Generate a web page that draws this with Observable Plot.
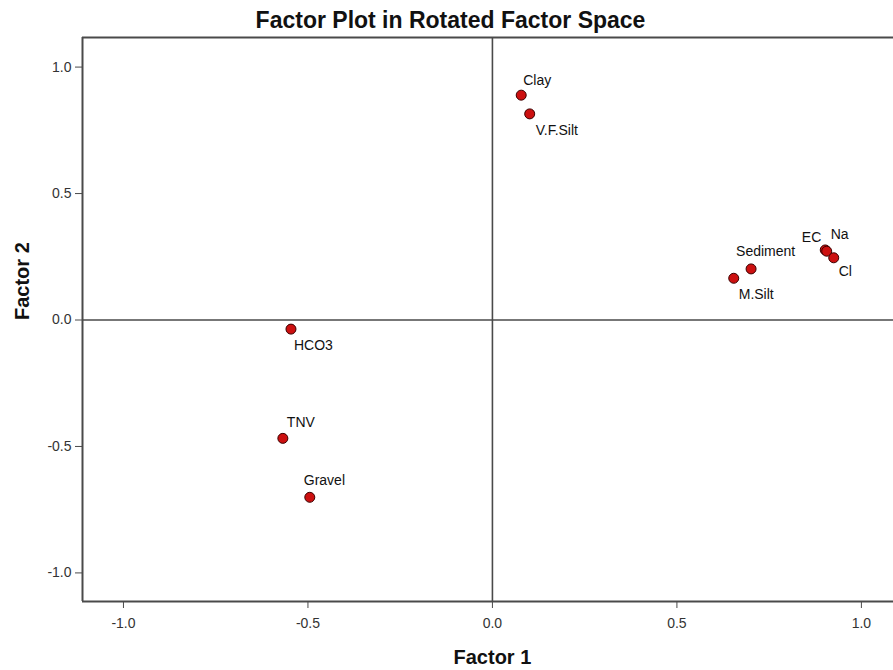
<!DOCTYPE html>
<html>
<head>
<meta charset="utf-8">
<script src="https://cdn.jsdelivr.net/npm/d3@7"></script>
<script src="https://cdn.jsdelivr.net/npm/@observablehq/plot@0.6"></script>
<style>
  html, body { margin: 0; padding: 0; background: #fff; overflow: hidden; }
  svg { font-family: "Liberation Sans", Arial, sans-serif; }
</style>
</head>
<body>
<div id="chart"></div>
<script>
// ---- Data ----
const variables = ["Clay", "V.F.Silt", "EC", "Na", "Cl", "Sediment", "M.Silt", "HCO3", "TNV", "Gravel"];
const factor1 = [0.078, 0.101, 0.902, 0.906, 0.925, 0.701, 0.654, -0.546, -0.568, -0.495];
const factor2 = [0.889, 0.815, 0.277, 0.272, 0.246, 0.202, 0.165, -0.036, -0.468, -0.701];
const tickValues = [-1.0, -0.5, 0.0, 0.5, 1.0];
const xDomain = [-1.111, 1.087];
const yDomain = [-1.113, 1.117];
const titleText = "Factor Plot in Rotated Factor Space";
const xLabel = "Factor 1";
const yLabel = "Factor 2";

const points = variables.map((v, i) => ({name: v, f1: factor1[i], f2: factor2[i]}));

// label placement (style only)
const labelPlacement = {
  "Clay":     {dx: 2,   dy: -15, anchor: "start"},
  "V.F.Silt": {dx: 6,   dy: 17,  anchor: "start"},
  "EC":       {dx: -4,  dy: -12, anchor: "end"},
  "Na":       {dx: 4,   dy: -17, anchor: "start"},
  "Cl":       {dx: 5,   dy: 14,  anchor: "start"},
  "Sediment": {dx: -15, dy: -17, anchor: "start"},
  "M.Silt":   {dx: 5,   dy: 16,  anchor: "start"},
  "HCO3":     {dx: 3,   dy: 16,  anchor: "start"},
  "TNV":      {dx: 4,   dy: -16, anchor: "start"},
  "Gravel":   {dx: -6,  dy: -17, anchor: "start"}
};

const lineColor = "#4a4a4a";
const fmt = d => d.toFixed(1); // hyphen-minus as in the reference

const labelMarks = points.map(p => {
  const s = labelPlacement[p.name];
  return Plot.text([p], {
    x: "f1", y: "f2", text: "name",
    dx: s.dx, dy: s.dy, textAnchor: s.anchor,
    fontSize: 14, fill: "#111"
  });
});

const chart = Plot.plot({
  width: 893,
  height: 670,
  marginTop: 37,
  marginLeft: 82,
  marginRight: 0,
  marginBottom: 69,
  style: {fontFamily: "'Liberation Sans', Arial, sans-serif", background: "#fff", overflow: "visible"},
  x: {domain: xDomain},
  y: {domain: yDomain},
  marks: [
    // reference lines at zero
    Plot.ruleX([0], {stroke: lineColor, strokeWidth: 1.6}),
    Plot.ruleY([0], {stroke: lineColor, strokeWidth: 1.6}),
    // frame (top, bottom, left)
    Plot.ruleY([yDomain[0], yDomain[1]], {stroke: lineColor, strokeWidth: 2}),
    Plot.ruleX([xDomain[0]], {stroke: lineColor, strokeWidth: 2}),
    Plot.axisX({ticks: tickValues, tickFormat: fmt, tickSize: 7, tickPadding: 10, fontSize: 14, stroke: lineColor, color: "#333", label: null}),
    Plot.axisY({ticks: tickValues, tickFormat: fmt, tickSize: 7, tickPadding: 4, fontSize: 14, stroke: lineColor, color: "#333", label: null}),
    Plot.dot(points, {x: "f1", y: "f2", r: 5, fill: "#cc1010", stroke: "#3a0000", strokeWidth: 1}),
    ...labelMarks,
    // title and axis titles
    Plot.text([titleText], {frameAnchor: "top-left", lineAnchor: "middle", dx: 368, dy: -17, textAnchor: "middle", fontSize: 23, fontWeight: "bold", fill: "#111"}),
    Plot.text([xLabel], {x: () => 0, frameAnchor: "bottom", lineAnchor: "middle", dy: 56, fontSize: 20, fontWeight: "bold", fill: "#111"}),
    Plot.text([yLabel], {y: () => 0, frameAnchor: "left", lineAnchor: "middle", dx: -60, rotate: -90, fontSize: 20, fontWeight: "bold", fill: "#111"})
  ]
});

document.getElementById("chart").appendChild(chart);
</script>
</body>
</html>
